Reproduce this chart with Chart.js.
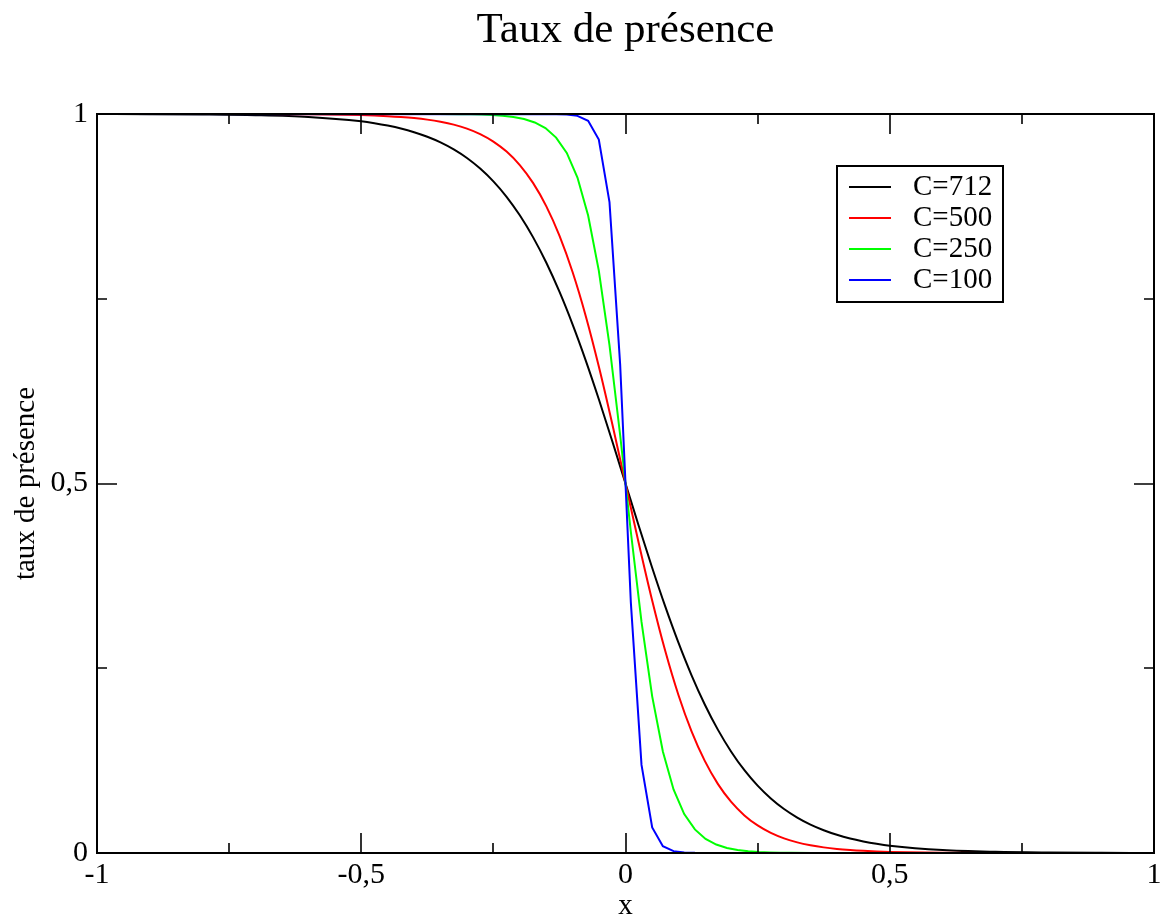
<!DOCTYPE html>
<html lang="fr">
<head>
<meta charset="utf-8">
<title>Taux de présence</title>
<script src="https://cdn.jsdelivr.net/npm/chart.js@4.4.0/dist/chart.umd.min.js"></script>
<style>
  html, body { margin: 0; padding: 0; background: #fff; }
  canvas { display: block; }
</style>
</head>
<body>
<canvas id="chart" width="1176" height="919"></canvas>
<script>
// Presence rate versus x for four values of C.
const FONT = "'Liberation Serif', 'Times New Roman', Times, serif";

const seriesLabels = ['C=712', 'C=500', 'C=250', 'C=100'];
const seriesColors = ['#000000', '#ff0000', '#00ff00', '#0000ff'];

// Shared abscissae for the two wide curves
const xWide = [
  -1, -0.9, -0.8, -0.7, -0.6, -0.5, -0.475, -0.45, -0.425, -0.4, -0.375, -0.35,
  -0.325, -0.3, -0.275, -0.25, -0.225, -0.2, -0.175, -0.15, -0.125, -0.1, -0.075,
  -0.05, -0.025, 0, 0.025, 0.05, 0.075, 0.1, 0.125, 0.15, 0.175, 0.2, 0.225, 0.25,
  0.275, 0.3, 0.325, 0.35, 0.375, 0.4, 0.425, 0.45, 0.475, 0.5, 0.6, 0.7, 0.8, 0.9, 1
];
const yC712 = [
  0.9999, 0.99975, 0.99936, 0.99841, 0.99601, 0.99005, 0.9875, 0.9843, 0.9804, 0.9754,
  0.9692, 0.9616, 0.9521, 0.9405, 0.9262, 0.9089, 0.8880, 0.8629, 0.8334, 0.7990,
  0.7595, 0.7150, 0.6660, 0.6130, 0.5572, 0.5, 0.4428, 0.3870, 0.3340, 0.2850,
  0.2405, 0.2010, 0.1666, 0.1371, 0.1120, 0.0911, 0.0738, 0.0595, 0.0479, 0.0384,
  0.0308, 0.0246, 0.0196, 0.0157, 0.0125, 0.00995, 0.00399, 0.00159, 0.00064, 0.00025, 0.0001
];
const yC500 = [
  1, 1, 1, 0.9999, 0.9996, 0.9985, 0.9979, 0.9971, 0.9960, 0.9945,
  0.9924, 0.9895, 0.9856, 0.9802, 0.9728, 0.9627, 0.9491, 0.9309, 0.9068, 0.8754,
  0.8355, 0.7858, 0.7261, 0.6570, 0.5805, 0.5, 0.4195, 0.3430, 0.2739, 0.2142,
  0.1645, 0.1246, 0.0932, 0.0691, 0.0509, 0.0373, 0.0272, 0.0198, 0.0144, 0.0105,
  0.0076, 0.0055, 0.0040, 0.0029, 0.0021, 0.0015, 0.0004, 0.0001, 0, 0, 0
];

// Sampled abscissae for the steeper curves (drawn as plain polylines)
const xC250 = [
  -1, -0.3535, -0.3131, -0.2929, -0.2727, -0.2525, -0.2323, -0.2121, -0.1919, -0.1717,
  -0.1515, -0.1313, -0.1111, -0.0909, -0.0707, -0.0505, -0.0303, -0.0101,
  0.0101, 0.0303, 0.0505, 0.0707, 0.0909, 0.1111, 0.1313, 0.1515, 0.1717, 0.1919,
  0.2121, 0.2323, 0.2525, 0.2727, 0.2929, 0.3131, 0.3535, 1
];
const yC250 = [
  1, 0.9999, 0.9997, 0.9995, 0.9992, 0.9986, 0.9976, 0.9960, 0.9932, 0.9886,
  0.9809, 0.9681, 0.9473, 0.9140, 0.8627, 0.7880, 0.6874, 0.5653,
  0.4347, 0.3126, 0.2120, 0.1373, 0.0860, 0.0527, 0.0319, 0.0191, 0.0114, 0.0068,
  0.0040, 0.0024, 0.0014, 0.0008, 0.0005, 0.0003, 0.0001, 0
];
const xC100 = [
  -1, -0.1313, -0.1111, -0.0909, -0.0707, -0.0505, -0.0303, -0.0101,
  0.0101, 0.0303, 0.0505, 0.0707, 0.0909, 0.1111, 0.1313, 1
];
const yC100 = [
  1, 0.9998, 0.9994, 0.9975, 0.9907, 0.9655, 0.8808, 0.6608,
  0.3392, 0.1192, 0.0345, 0.0093, 0.0025, 0.0006, 0.0002, 0
];

const toPoints = (xs, ys) => xs.map((x, i) => ({ x, y: ys[i] }));
const frNumber = v => String(v).replace('.', ',');

// Closed frame with inward major/minor tick marks on all four sides
const frameTicks = {
  id: 'frameTicks',
  afterDatasetsDraw(chart, args, opts) {
    const { ctx, chartArea: a, scales } = chart;
    const xs = scales.x, ys = scales.y;
    ctx.save();
    ctx.strokeStyle = '#000';
    ctx.lineWidth = opts.frameWidth;
    ctx.strokeRect(a.left, a.top, a.right - a.left, a.bottom - a.top);
    ctx.lineWidth = opts.tickWidth;
    ctx.beginPath();
    const xv = xs.ticks.map(t => t.value);
    xv.forEach((v, i) => {
      const p = Math.round(xs.getPixelForValue(v));
      ctx.moveTo(p, a.bottom); ctx.lineTo(p, a.bottom - opts.major);
      ctx.moveTo(p, a.top); ctx.lineTo(p, a.top + opts.major);
      if (i < xv.length - 1) {
        const m = Math.round(xs.getPixelForValue((v + xv[i + 1]) / 2));
        ctx.moveTo(m, a.bottom); ctx.lineTo(m, a.bottom - opts.minor);
        ctx.moveTo(m, a.top); ctx.lineTo(m, a.top + opts.minor);
      }
    });
    const yv = ys.ticks.map(t => t.value);
    yv.forEach((v, i) => {
      const p = Math.round(ys.getPixelForValue(v));
      ctx.moveTo(a.left, p); ctx.lineTo(a.left + opts.major, p);
      ctx.moveTo(a.right, p); ctx.lineTo(a.right - opts.major, p);
      if (i < yv.length - 1) {
        const m = Math.round(ys.getPixelForValue((v + yv[i + 1]) / 2));
        ctx.moveTo(a.left, m); ctx.lineTo(a.left + opts.minor, m);
        ctx.moveTo(a.right, m); ctx.lineTo(a.right - opts.minor, m);
      }
    });
    ctx.stroke();
    ctx.restore();
  }
};

// Boxed legend placed inside the plot area
const boxLegend = {
  id: 'boxLegend',
  afterDraw(chart, args, opts) {
    const { ctx } = chart;
    const items = chart.data.datasets.map(d => ({ label: d.label, color: d.borderColor }));
    ctx.save();
    ctx.fillStyle = '#fff';
    ctx.fillRect(opts.left, opts.top, opts.width, opts.height);
    ctx.strokeStyle = '#000';
    ctx.lineWidth = opts.borderWidth;
    ctx.strokeRect(opts.left, opts.top, opts.width, opts.height);
    ctx.font = opts.fontSize + 'px ' + FONT;
    ctx.textBaseline = 'middle';
    ctx.textAlign = 'left';
    items.forEach((it, i) => {
      const y = opts.firstRow + i * opts.rowStep;
      ctx.strokeStyle = it.color;
      ctx.lineWidth = 2;
      ctx.beginPath();
      ctx.moveTo(opts.left + opts.lineStart, y);
      ctx.lineTo(opts.left + opts.lineStart + opts.lineLength, y);
      ctx.stroke();
      ctx.fillStyle = '#000';
      ctx.fillText(it.label, opts.left + opts.textStart, y);
    });
    ctx.restore();
  }
};

const datasets = [
  { label: seriesLabels[0], data: toPoints(xWide, yC712), borderColor: seriesColors[0], order: 3, cubicInterpolationMode: 'monotone' },
  { label: seriesLabels[1], data: toPoints(xWide, yC500), borderColor: seriesColors[1], order: 2, cubicInterpolationMode: 'monotone' },
  { label: seriesLabels[2], data: toPoints(xC250, yC250), borderColor: seriesColors[2], order: 1 },
  { label: seriesLabels[3], data: toPoints(xC100, yC100), borderColor: seriesColors[3], order: 0 }
].map(d => Object.assign({ borderWidth: 2, pointRadius: 0, fill: false }, d));

new Chart(document.getElementById('chart'), {
  type: 'line',
  data: { datasets },
  plugins: [frameTicks, boxLegend],
  options: {
    responsive: false,
    animation: false,
    layout: { padding: { left: 0, right: 22, top: 0, bottom: 0 } },
    scales: {
      x: {
        type: 'linear', min: -1, max: 1,
        afterFit(s) { s.height = 66; },
        grid: { display: false, drawTicks: false },
        border: { display: false },
        ticks: {
          stepSize: 0.5, padding: 7, color: '#000', maxRotation: 0,
          font: { family: FONT, size: 30, lineHeight: 1 },
          callback: v => frNumber(v)
        },
        title: {
          display: true, text: 'x', color: '#000',
          font: { family: FONT, size: 29, lineHeight: 1 },
          padding: { top: 0, bottom: -2 }
        }
      },
      y: {
        type: 'linear', min: 0, max: 1,
        afterFit(s) { s.width = 97; },
        grid: { display: false, drawTicks: false },
        border: { display: false },
        ticks: {
          stepSize: 0.5, padding: 9, color: '#000',
          font: { family: FONT, size: 30, lineHeight: 1 },
          callback: v => frNumber(v)
        },
        title: {
          display: true, text: 'taux de présence', color: '#000',
          font: { family: FONT, size: 29, lineHeight: 1 },
          padding: { top: 12, bottom: 0 }
        }
      }
    },
    plugins: {
      legend: { display: false },
      tooltip: { enabled: false },
      title: {
        display: true, fullSize: false, text: 'Taux de présence', color: '#000',
        font: { family: FONT, size: 43, weight: 'normal', lineHeight: 1 },
        padding: { top: 9, bottom: 62 }
      },
      frameTicks: { frameWidth: 2, tickWidth: 1.6, major: 20, minor: 10 },
      boxLegend: {
        left: 837, top: 166, width: 166, height: 136, borderWidth: 2,
        firstRow: 187, rowStep: 31, lineStart: 12, lineLength: 42, textStart: 76,
        fontSize: 29
      }
    }
  }
});
</script>
</body>
</html>
